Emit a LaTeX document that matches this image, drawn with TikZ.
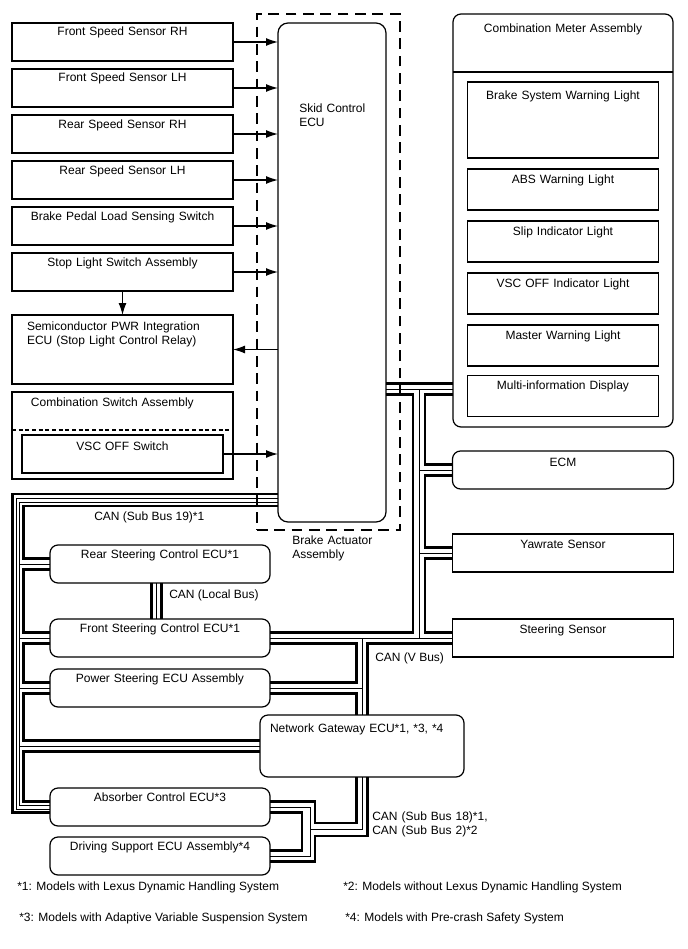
\documentclass[tikz,border=0pt]{standalone}
\usepackage{fontspec}
\setmainfont{Liberation Sans}
\usetikzlibrary{positioning, arrows.meta}

\newcommand{\dfont}{\fontsize{9pt}{10.5pt}\selectfont}

\begin{document}
\begin{tikzpicture}[x=0.75pt, y=-0.75pt, >={Latex[length=9pt, width=6pt]}, font=\dfont,
    unit/.style={draw, line width=0.9pt, anchor=north west, inner xsep=3pt, inner ysep=0pt, outer sep=0pt, align=center},
    ecu/.style={unit, rounded corners=6pt},
    lbox/.style={unit, text width=159.75pt, text height=9.75pt, text depth=18.75pt},
    lecu/.style={ecu, text width=159pt, text height=9.75pt, text depth=18.75pt},
    lamp/.style={unit, text width=137.25pt, text height=10.5pt, text depth=20.25pt},
    sig/.style={line width=0.9pt, ->},
    canh/.style={line width=1.7pt},
    canl/.style={line width=0.6pt},
    note/.style={anchor=base west, inner sep=0pt}]

    \fill[white] (0,0) rectangle (688,949);
    \useasboundingbox (0,0) rectangle (688,949);

    % Input sensors and switches
    \node[lbox] (fsrh) at (12,23) {Front Speed Sensor RH};
    \node[lbox, below=6pt of fsrh] (fslh) {Front Speed Sensor LH};
    \node[lbox, below=6pt of fslh] (rsrh) {Rear Speed Sensor RH};
    \node[lbox, below=6pt of rsrh] (rslh) {Rear Speed Sensor LH};
    \node[lbox, below=6pt of rslh] (bpls) {Brake Pedal Load Sensing Switch};
    \node[lbox, below=6pt of bpls] (sls) {Stop Light Switch Assembly};
    \node[lbox, align=left, inner xsep=11.25pt, text width=143.25pt, text height=11.25pt, text depth=40.5pt, below=18pt of sls] (semi) {Semiconductor PWR Integration\\ECU (Stop Light Control Relay)};
    \node[lbox, align=left, inner xsep=14.25pt, text width=137.25pt, text height=10.5pt, text depth=54.75pt, below=6pt of semi] (csw) {Combination Switch Assembly};
    \node[unit, anchor=north, text width=144.75pt, text height=11.25pt, text depth=17.25pt] (vscsw) at ([yshift=-32.25pt]csw.north) {VSC OFF Switch};
    \coordinate (cswcut) at ([yshift=3.75pt]vscsw.north);
    \draw[line width=0.8pt, dash pattern=on 3pt off 2pt] (cswcut -| csw.west) -- (cswcut -| csw.east);

    % Brake actuator
    \node[draw, line width=0.9pt, dash pattern=on 8pt off 5pt, minimum width=107.25pt, minimum height=387pt, inner sep=0pt, outer sep=0pt, anchor=north west] (bact) at (257,14) {};
    \node[note, align=left, text width=70pt] (bacttxt) at ([xshift=26.25pt, yshift=-10.5pt]bact.south west) {Brake Actuator\\Assembly};
    \node[ecu, rounded corners=7.5pt, minimum width=81pt, minimum height=374.25pt, inner sep=0pt] (skid) at (278,23) {};
    \node[note, align=left, text width=70pt] (skidtxt) at ([xshift=15.75pt, yshift=-67.5pt]skid.north west) {Skid Control\\ECU};

    % Combination meter
    \node[ecu, text width=159pt, text height=14.25pt, text depth=295.5pt] (cma) at (453,14) {Combination Meter Assembly};
    \coordinate (cmacut) at ([yshift=-43.5pt]cma.north);
    \draw[line width=0.9pt] (cmacut -| cma.west) -- (cmacut -| cma.east);
    \node[unit, anchor=north, text width=137.25pt, text height=12.75pt, text depth=44.25pt] (bswl) at ([yshift=-51pt]cma.north) {Brake System Warning Light};
    \node[lamp, below=8.25pt of bswl] (absl) {ABS Warning Light};
    \node[lamp, below=8.25pt of absl] (slipl) {Slip Indicator Light};
    \node[lamp, below=8.25pt of slipl] (vscl) {VSC OFF Indicator Light};
    \node[lamp, below=8.25pt of vscl] (mwl) {Master Warning Light};
    \node[lamp, below=7pt of mwl] (mid) {Multi-information Display};

    % V bus members
    \node[ecu, text width=159.75pt, text height=11.25pt, text depth=17.25pt, below=18pt of cma] (ecm) {ECM};
    \node[unit, text width=159.75pt, text height=10.5pt, text depth=18pt, below=33.75pt of ecm] (yaw) {Yawrate Sensor};
    \node[unit, text width=159.75pt, text height=10.5pt, text depth=18pt, below=35.25pt of yaw] (steer) {Steering Sensor};

    % Chassis ECUs
    \node[lecu] (rs) at (50,545) {Rear Steering Control ECU*1};
    \node[lecu, below=27pt of rs] (fs) {Front Steering Control ECU*1};
    \node[lecu, below=9pt of fs] (ps) {Power Steering ECU Assembly};
    \node[ecu, align=left, inner xsep=7.5pt, text width=138pt, text height=12.75pt, text depth=33.75pt] (gw) at (260,715) {Network Gateway ECU*1, *3, *4};
    \node[lecu] (abs) at (50,788) {Absorber Control ECU*3};
    \node[lecu, below=8.25pt of abs] (ds) {Driving Support ECU Assembly*4};

    % Signals
    \foreach \n in {fsrh, fslh, rsrh, rslh, bpls, sls}
        \draw[sig] (\n.east) -- (\n.east -| skid.west);
    \draw[sig] (semi.east -| skid.west) -- (semi.east);
    \draw[sig] (vscsw.east) -- (vscsw.east -| skid.west);
    \draw[sig] (sls.south) -- (semi.north);

    % CAN (Sub Bus 19)
    \draw[canh] (skid.west |- 0,494) -| (12.5,812.5) -- (abs.west |- 0,812.5);
    \draw[canl] (skid.west |- 0,498) -| (16,809) -- (abs.west |- 0,809);
    \draw[canl] (skid.west |- 0,502) -| (19.5,805) -- (abs.west |- 0,805);
    \foreach \n in {rs, fs, ps, gw}
        \draw[canl] (\n.west -| 19.5,0) -- (\n.west);
    \draw[canh] (skid.west |- 0,506) -| (23.5,558.5) -- (rs.west |- 0,558.5);
    \draw[canh] (rs.west |- 0,569.5) -| (23.5,632.5) -- (fs.west |- 0,632.5);
    \draw[canh] (fs.west |- 0,643.5) -| (23.5,682.5) -- (ps.west |- 0,682.5);
    \draw[canh] (ps.west |- 0,693.5) -| (23.5,740.5) -- (gw.west |- 0,740.5);
    \draw[canh] (gw.west |- 0,751.5) -| (23.5,801.5) -- (abs.west |- 0,801.5);

    % CAN (Local Bus)
    \draw[canh] (rs.south -| 151.5,0) -- (fs.north -| 151.5,0);
    \draw[canl] (rs.south -| 156.5,0) -- (fs.north -| 156.5,0);
    \draw[canh] (rs.south -| 161.5,0) -- (fs.north -| 161.5,0);

    % CAN (V Bus)
    \draw[canh] (skid.east |- 0,383.5) -- (cma.west |- 0,383.5);
    \draw[canl] (skid.east |- 0,389) -- (cma.west |- 0,389);
    \draw[canl] (419.5,389) -- (419.5,638);
    \draw[canl] (fs.east) -- (steer.west);
    \draw[canl] (362,638) -- (gw.north);
    \draw[canl] (ecm.west -| 419.5,0) -- (ecm.west);
    \draw[canl] (yaw.west -| 419.5,0) -- (yaw.west);
    \draw[canl] (ps.east -| 362,0) -- (ps.east);
    \draw[canh] (skid.east |- 0,394.5) -| (413,632.5) -- (fs.east |- 0,632.5);
    \draw[canh] (cma.west |- 0,394.5) -| (425,464.5) -- (ecm.west |- 0,464.5);
    \draw[canh] (ecm.west |- 0,475.5) -| (425,547.5) -- (yaw.west |- 0,547.5);
    \draw[canh] (yaw.west |- 0,558.5) -| (425,632.5) -- (steer.west |- 0,632.5);
    \draw[canh] (steer.west |- 0,643.5) -| (gw.north -| 367.5,0);
    \draw[canh] (fs.east |- 0,643.5) -| (356.5,682.5) -- (ps.east |- 0,682.5);
    \draw[canh] (ps.east |- 0,693.5) -| (gw.north -| 356.5,0);

    % CAN (Sub Bus 18 / Sub Bus 2)
    \draw[canh] (gw.south -| 356.5,0) |- (315,823) |- (abs.east |- 0,801.5);
    \draw[canl] (gw.south) |- (310,829) |- (abs.east);
    \draw[canl] (310,829) |- (ds.east);
    \draw[canh] (gw.south -| 367.5,0) |- (315,836) |- (ds.east |- 0,861.5);
    \draw[canh] (abs.east |- 0,812.5) -| (302,850.5) -- (ds.east |- 0,850.5);

    % Bus labels
    \node[note] (sb19) at (94,520) {CAN (Sub Bus 19)*1};
    \node[note] (lbus) at (169,598) {CAN (Local Bus)};
    \node[note] (vbus) at (375,661) {CAN (V Bus)};
    \node[note, align=left, text width=100pt] (sb18) at (372,820.5) {CAN (Sub Bus 18)*1,\\CAN (Sub Bus 2)*2};

    % Notes
    \node[note] (fn1) at (17,890) {*1: Models with Lexus Dynamic Handling System};
    \node[note] (fn2) at (343,890) {*2: Models without Lexus Dynamic Handling System};
    \node[note] (fn3) at (19,921) {*3: Models with Adaptive Variable Suspension System};
    \node[note] (fn4) at (345,921) {*4: Models with Pre-crash Safety System};
\end{tikzpicture}
\end{document}
